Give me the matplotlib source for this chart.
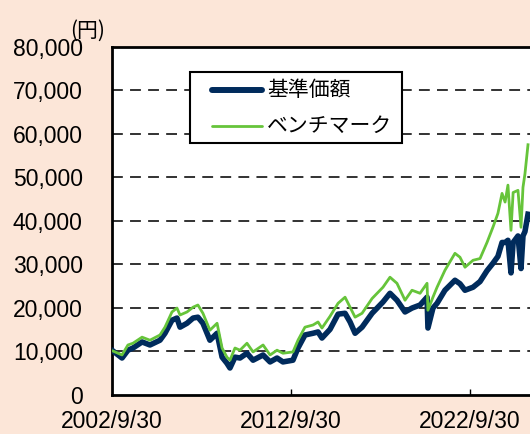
import matplotlib
matplotlib.use("Agg")
import matplotlib.pyplot as plt
from matplotlib.lines import Line2D
from matplotlib.patches import Rectangle

# ---- data ----
years = [2002.81, 2003.31, 2003.64, 2003.92, 2004.43, 2004.87, 2005.43, 2005.71,
         2006.10, 2006.38, 2006.55, 2006.94, 2007.28, 2007.55, 2007.83, 2008.22,
         2008.62, 2008.90, 2009.17, 2009.34, 2009.62, 2009.90, 2010.29, 2010.63,
         2011.19, 2011.58, 2011.97, 2012.30, 2012.86, 2013.14, 2013.53, 2013.98,
         2014.26, 2014.48, 2014.93, 2015.38, 2015.77, 2016.05, 2016.33, 2016.72,
         2017.28, 2017.89, 2018.28, 2018.67, 2019.12, 2019.51, 2019.96, 2020.35,
         2020.40, 2020.68, 2020.91, 2021.35, 2021.91, 2022.19, 2022.47, 2022.92,
         2023.31, 2023.70, 2024.03, 2024.31, 2024.54, 2024.71, 2024.87, 2025.04,
         2025.16, 2025.43, 2025.60, 2025.71, 2025.82, 2025.99]
benchmark = [10000, 9100, 11400, 11800, 13200, 12500, 13700, 15500,
             19000, 19900, 18300, 19000, 20100, 20600, 18700, 14800,
             16400, 10700, 8600, 7900, 10700, 10200, 11800, 9800,
             11400, 9100, 10200, 9500, 9800, 12500, 15500, 16000,
             16700, 15300, 18000, 21000, 22400, 20100, 17800, 18700,
             22100, 24700, 27000, 25600, 21700, 24000, 23300, 25600,
             19400, 22400, 24700, 28600, 32500, 31600, 29300, 30900,
             31300, 35000, 38500, 41700, 46300, 44300, 48200, 37800,
             46500, 47000, 38500, 47700, 50800, 57500]
nav = [10000, 8400, 10200, 10700, 12100, 11400, 12500, 14100,
       17100, 17600, 15500, 16400, 17600, 17800, 16400, 12500,
       14100, 8600, 7200, 6100, 8600, 8400, 9500, 7900,
       9100, 7500, 8400, 7500, 7900, 10700, 13700, 14100,
       14400, 13000, 15000, 18500, 18700, 16700, 14100, 15500,
       18700, 21300, 23300, 21700, 19000, 19900, 20600, 22400,
       15300, 19900, 21000, 24000, 26300, 25500, 24000, 24700,
       26000, 28500, 30200, 31800, 35000, 35000, 35500, 28000,
       35000, 36500, 29000, 36500, 37500, 41500]
xtick_pos = [2002.75, 2012.75, 2022.75]
xtick_labels = ["2002/9/30", "2012/9/30", "2022/9/30"]
ytick_pos = [0, 10000, 20000, 30000, 40000, 50000, 60000, 70000, 80000]
ytick_labels = ["0", "10,000", "20,000", "30,000", "40,000", "50,000",
                "60,000", "70,000", "80,000"]
series_names = ["基準価額", "ベンチマーク"]

# ---- styling ----
W, H = 530, 434
BG = "#FCE6D8"
NAVY = "#002B5C"
GREEN = "#66C43A"
CJK = ['Noto Sans CJK JP', 'DejaVu Sans']
plt.rcParams['font.family'] = ['Liberation Sans', 'Noto Sans CJK JP', 'DejaVu Sans']

fig = plt.figure(figsize=(W / 100, H / 100), dpi=100, facecolor=BG)
left, bottom, top = 112 / W, (H - 394.5) / H, (H - 47) / H
x0, x1 = 2002.75, 2027.0
px_per_year = 17.9
width = (x1 - x0) * px_per_year / W
ax = fig.add_axes([left, bottom, width, top - bottom])
ax.set_facecolor("white")

ax.plot(years, nav, color=NAVY, lw=4.0, solid_joinstyle='round', zorder=3)
ax.plot(years, benchmark, color=GREEN, lw=2.0, solid_joinstyle='round', zorder=4)

ax.set_xlim(x0, x1)
ax.set_ylim(0, 80000)
ax.set_yticks(ytick_pos)
ax.set_yticklabels(ytick_labels)
ax.set_xticks(xtick_pos)
ax.set_xticklabels(xtick_labels)

for y in ytick_pos[1:-1]:
    ax.axhline(y, color="#222222", lw=1.3, ls=(0, (6, 4)), zorder=1)

for s in ax.spines.values():
    s.set_linewidth(2.0)
    s.set_color("black")

ax.tick_params(axis='y', length=0, pad=21, labelsize=16.5)
ax.tick_params(axis='x', direction='in', length=4.5, width=1, pad=11, labelsize=16.5)
ax.xaxis.get_major_ticks()[0].tick1line.set_visible(False)

def fx(px):
    return px / W

def fy(py):
    return 1 - py / H

fig.text(fx(88), fy(31), "(円)", ha='center', va='center', fontsize=15, family=CJK)

# legend box
fig.add_artist(Rectangle((fx(190), fy(143)), fx(402) - fx(190), fy(72) - fy(143),
                         transform=fig.transFigure, facecolor='white',
                         edgecolor='black', lw=1.5, zorder=10))
legend_styles = [(NAVY, 4.3, 90), (GREEN, 2.0, 126)]
for name, (col, lw, ypx) in zip(series_names, legend_styles):
    fig.add_artist(Line2D([fx(212), fx(262)], [fy(ypx), fy(ypx)], color=col, lw=lw,
                          solid_capstyle='round', transform=fig.transFigure, zorder=11))
    fig.text(fx(267), fy(ypx), name, ha='left', va='center', fontsize=15,
             family=CJK, zorder=12)

fig.savefig("out.png", dpi=100, facecolor=BG)
